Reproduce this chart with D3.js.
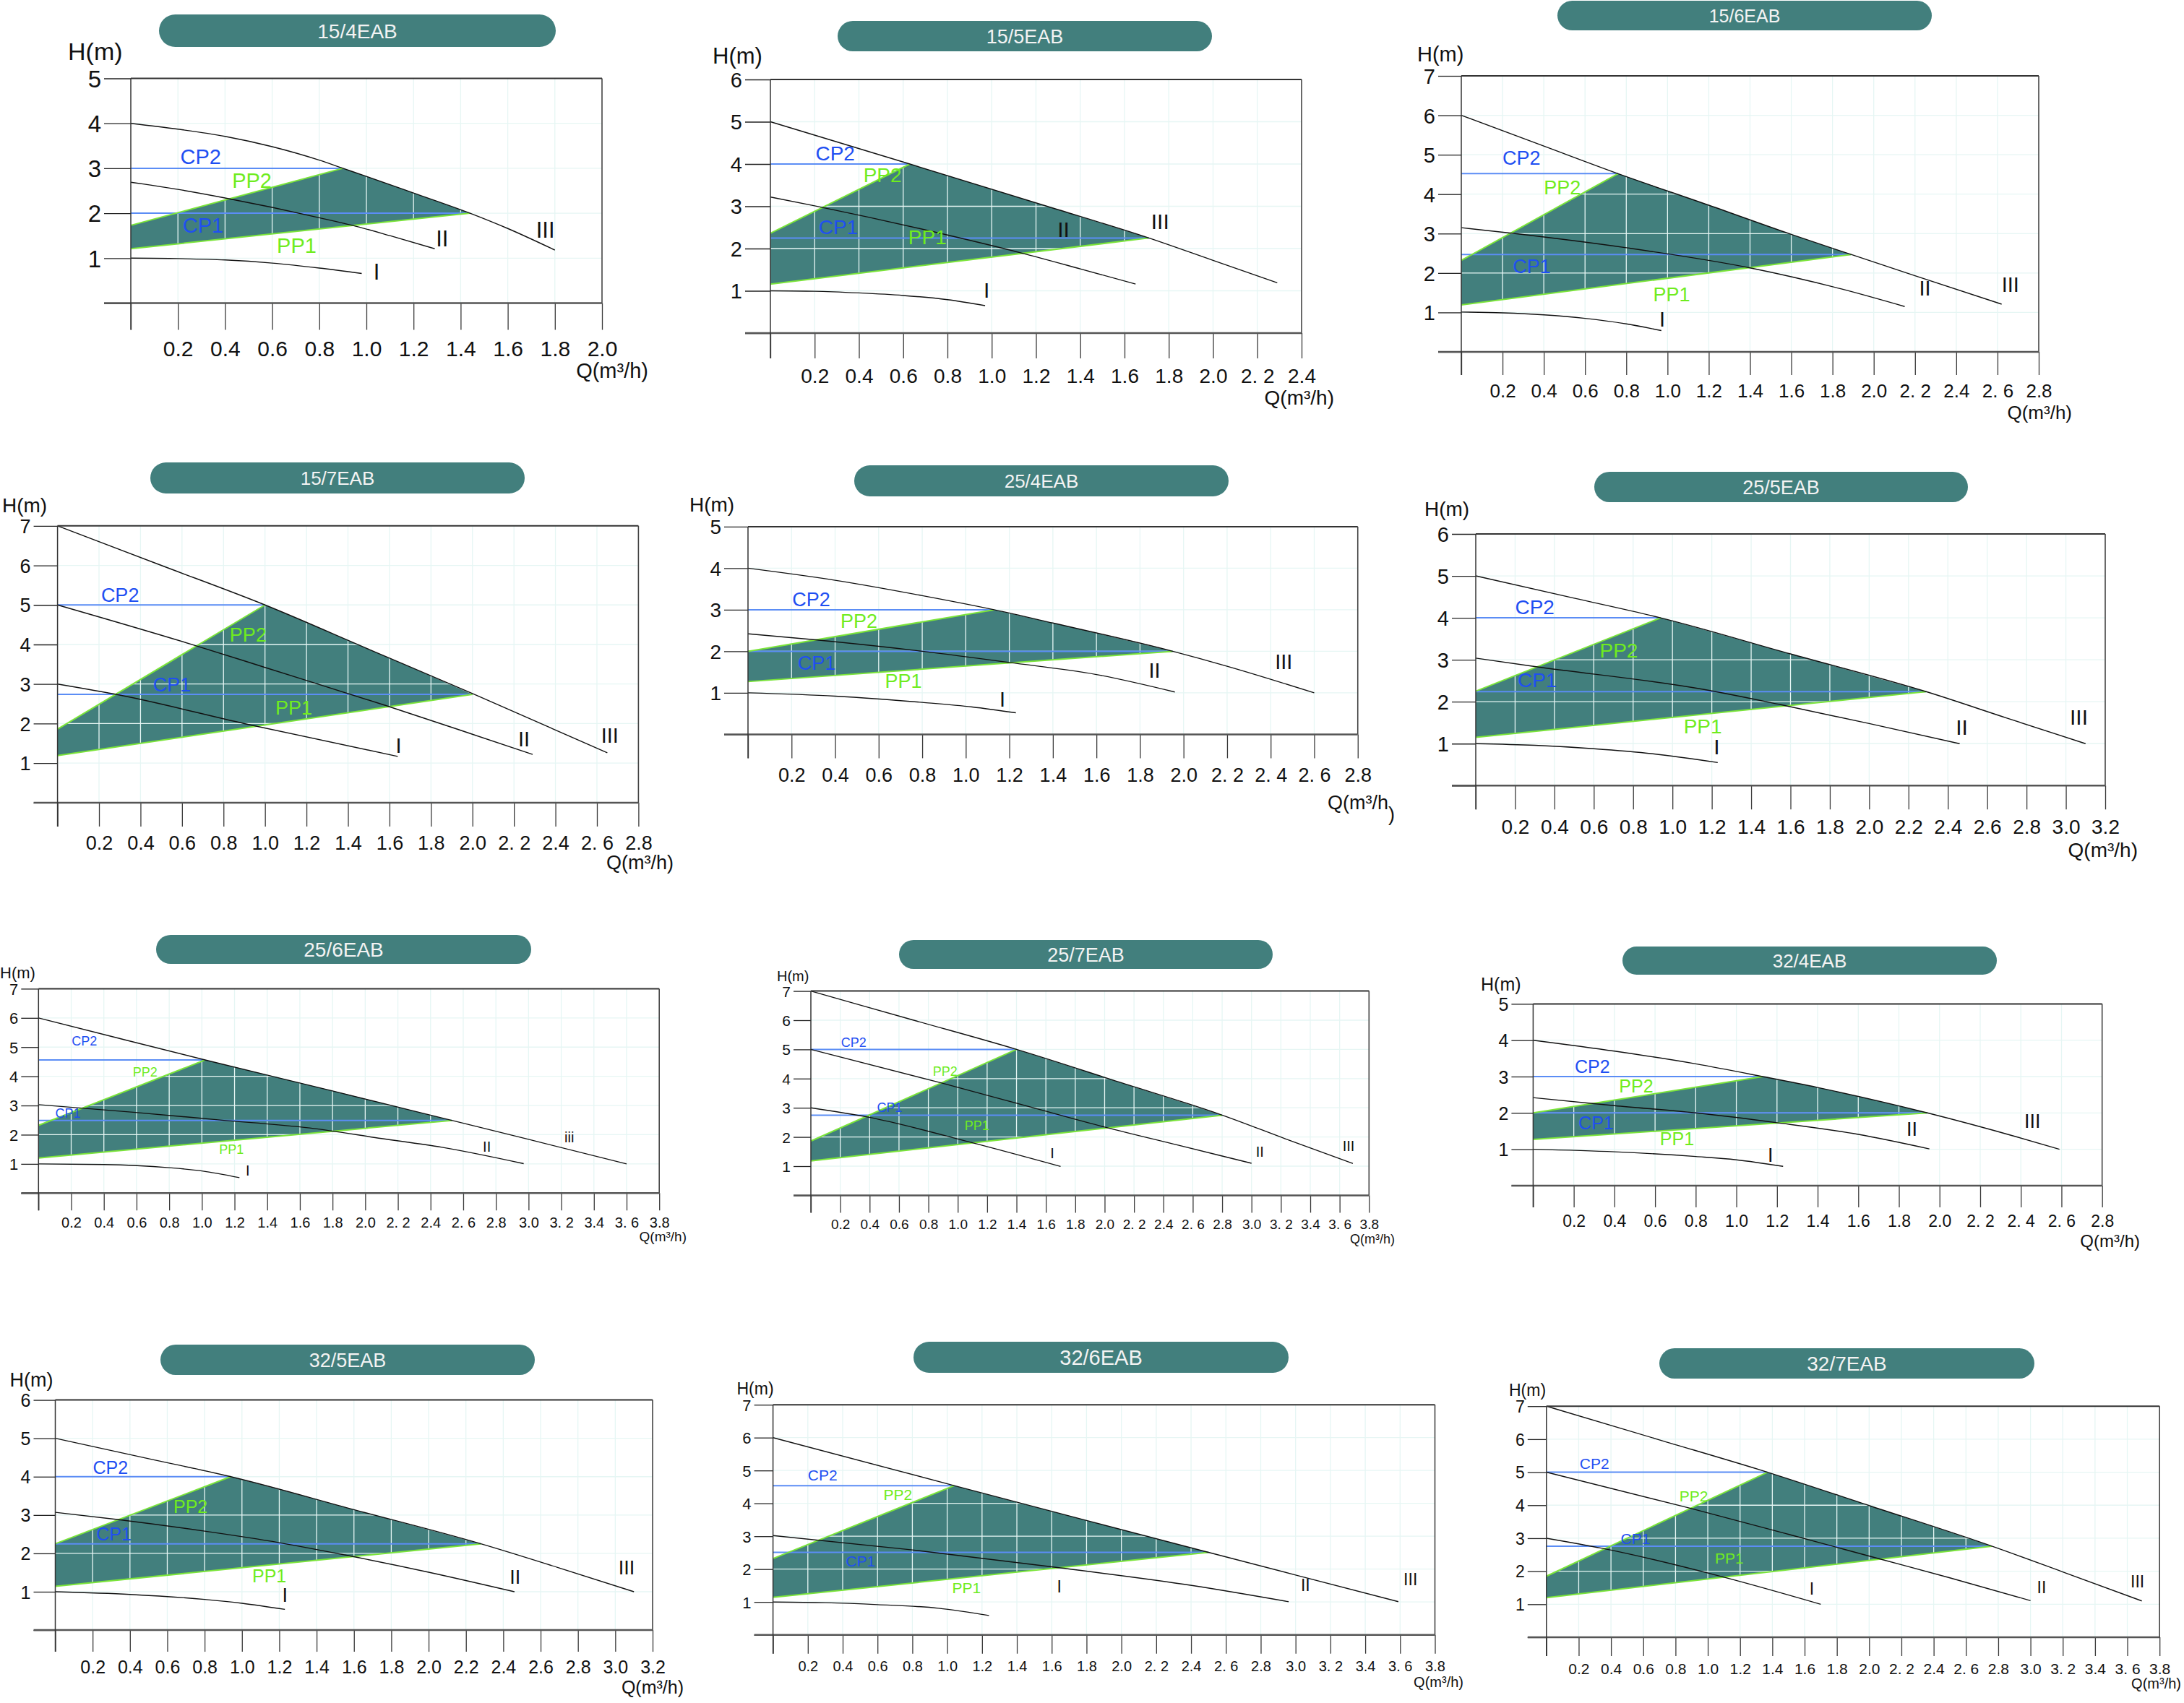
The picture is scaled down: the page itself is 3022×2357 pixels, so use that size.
<!DOCTYPE html>
<html><head><meta charset="utf-8">
<script src="https://cdn.jsdelivr.net/npm/d3@7"></script>
<style>
body{margin:0;background:#fff}
svg text{font-family:"Liberation Sans",Arial,sans-serif}
</style>
</head><body>
<svg id="c" width="3022" height="2357"></svg>
<script>
// ---------------- DATA ----------------
const titles = ["15/4EAB","15/5EAB","15/6EAB","15/7EAB","25/4EAB","25/5EAB","25/6EAB","25/7EAB","32/4EAB","32/5EAB","32/6EAB","32/7EAB"];
const xMaxes = [2.0, 2.4, 2.8, 2.8, 2.8, 3.2, 3.8, 3.8, 2.8, 3.2, 3.8, 3.8];
const yMaxes = [5, 6, 7, 7, 5, 6, 7, 7, 5, 6, 7, 7];

const base = ["0.2","0.4","0.6","0.8","1.0","1.2","1.4","1.6","1.8","2.0"];
const xTickLabels = [
  base,
  base.concat(["2. 2","2.4"]),
  base.concat(["2. 2","2.4","2. 6","2.8"]),
  base.concat(["2. 2","2.4","2. 6","2.8"]),
  base.concat(["2. 2","2. 4","2. 6","2.8"]),
  base.concat(["2.2","2.4","2.6","2.8","3.0","3.2"]),
  base.concat(["2. 2","2.4","2. 6","2.8","3.0","3. 2","3.4","3. 6","3.8"]),
  base.concat(["2. 2","2.4","2. 6","2.8","3.0","3. 2","3.4","3. 6","3.8"]),
  base.concat(["2. 2","2. 4","2. 6","2.8"]),
  base.concat(["2.2","2.4","2.6","2.8","3.0","3.2"]),
  base.concat(["2. 2","2.4","2. 6","2.8","3.0","3. 2","3.4","3. 6","3.8"]),
  base.concat(["2. 2","2.4","2. 6","2.8","3.0","3. 2","3.4","3. 6","3.8"])
];

// speed curves [Q, H]
const curveI = [
  [[0,1.0],[0.2,0.99],[0.4,0.96],[0.6,0.89],[0.8,0.78],[0.98,0.66]],
  [[0,1.0],[0.2,0.99],[0.4,0.95],[0.6,0.89],[0.8,0.79],[0.97,0.65]],
  [[0,1.01],[0.2,0.99],[0.4,0.94],[0.6,0.85],[0.8,0.71],[0.97,0.54]],
  [[0,3.0],[0.3,2.72],[0.9,2.0],[1.64,1.17]],
  [[0,1.0],[0.4,0.92],[0.8,0.77],[1.03,0.66],[1.23,0.52]],
  [[0,1.0],[0.3,0.96],[0.6,0.88],[0.9,0.76],[1.23,0.55]],
  [[0,1.0],[0.4,0.98],[0.8,0.87],[1.0,0.76],[1.23,0.53]],
  [[0,3.0],[0.39,2.68],[1.1,1.8],[1.7,0.99]],
  [[0,1.0],[0.4,0.93],[0.8,0.8],[1.0,0.71],[1.23,0.53]],
  [[0,1.0],[0.4,0.93],[0.8,0.8],[1.0,0.7],[1.23,0.54]],
  [[0,1.0],[0.3,0.98],[0.6,0.92],[0.95,0.81],[1.24,0.59]],
  [[0,3.0],[0.34,2.7],[1.1,1.82],[1.7,1.0]]
];
const curveII = [
  [[0,2.69],[0.2,2.53],[0.4,2.34],[0.6,2.13],[0.8,1.9],[0.94,1.73],[1.1,1.5],[1.29,1.21]],
  [[0,3.22],[0.2,3.01],[0.8,2.32],[1.13,1.9],[1.4,1.52],[1.65,1.16]],
  [[0,3.15],[0.26,3.0],[0.8,2.64],[1.4,2.13],[1.84,1.6],[2.15,1.15]],
  [[0,5.0],[0.66,3.98],[1.0,3.42],[1.58,2.46],[2.0,1.73],[2.29,1.22]],
  [[0,2.42],[0.3,2.28],[0.8,2.0],[1.2,1.73],[1.6,1.44],[1.96,1.02]],
  [[0,3.04],[0.3,2.84],[1.15,2.3],[1.55,1.93],[2.0,1.48],[2.46,1.0]],
  [[0,3.03],[0.58,2.77],[1.1,2.51],[1.66,2.23],[2.1,1.87],[2.47,1.57],[2.97,1.01]],
  [[0,5.0],[0.89,3.85],[1.5,3.02],[2.0,2.34],[2.5,1.72],[3.0,1.1]],
  [[0,2.42],[0.4,2.2],[0.8,2.0],[1.2,1.73],[1.6,1.41],[1.95,1.01]],
  [[0,3.07],[0.34,2.88],[0.8,2.58],[1.2,2.28],[1.55,1.96],[2.0,1.51],[2.46,1.0]],
  [[0,3.02],[0.79,2.59],[1.6,2.07],[2.41,1.5],[2.96,1.01]],
  [[0,5.0],[0.89,3.91],[1.5,3.12],[2.06,2.38],[2.5,1.8],[3.0,1.11]]
];
const curveIII = [
  [[0,4.0],[0.2,3.87],[0.4,3.71],[0.6,3.48],[0.8,3.18],[0.9,3.0],[1.0,2.82],[1.2,2.45],[1.44,2.0],[1.6,1.66],[1.8,1.18]],
  [[0,5.0],[0.63,4.0],[1.25,3.0],[1.71,2.25],[2.0,1.72],[2.29,1.19]],
  [[0,6.0],[0.4,5.22],[0.76,4.52],[1.2,3.72],[1.6,2.98],[1.89,2.47],[2.2,1.93],[2.62,1.21]],
  [[0,7.0],[0.5,6.0],[1.0,5.0],[1.5,3.88],[2.0,2.76],[2.65,1.26]],
  [[0,4.0],[0.4,3.71],[0.8,3.34],[1.13,3.0],[1.4,2.68],[1.95,2.0],[2.2,1.64],[2.6,1.0]],
  [[0,5.0],[0.5,4.47],[0.94,4.0],[1.6,3.14],[2.29,2.24],[2.7,1.61],[3.1,1.0]],
  [[0,6.0],[0.5,5.29],[1.02,4.56],[1.8,3.5],[2.53,2.49],[3.0,1.84],[3.6,1.0]],
  [[0,7.0],[0.7,6.0],[1.4,5.0],[2.1,3.88],[2.8,2.75],[3.25,1.9],[3.69,1.09]],
  [[0,4.0],[0.4,3.7],[0.8,3.35],[1.13,3.0],[1.4,2.7],[1.94,2.0],[2.38,1.34],[2.59,1.0]],
  [[0,5.0],[0.5,4.47],[0.94,4.0],[1.6,3.14],[2.28,2.25],[2.7,1.62],[3.1,1.0]],
  [[0,6.0],[1.04,4.54],[1.8,3.48],[2.5,2.51],[3.0,1.82],[3.59,1.01]],
  [[0,7.0],[0.7,5.98],[1.37,5.0],[2.0,3.99],[2.76,2.76],[3.2,1.98],[3.69,1.1]]
];
// control-mode end points [Q, H]
const cp2Points = [[0.9,3.0],[0.63,4.0],[0.76,4.52],[1.0,5.0],[1.13,3.0],[0.94,4.0],[1.02,4.56],[1.4,5.0],[1.13,3.0],[0.94,4.0],[1.04,4.54],[1.37,5.0]];
const cp1Points = [[1.44,2.0],[1.71,2.25],[1.89,2.47],[2.0,2.74],[1.95,2.0],[2.29,2.24],[2.53,2.49],[2.8,2.745],[1.94,2.0],[2.28,2.25],[2.5,2.51],[2.76,2.76]];
const pp2Starts = [1.73, 2.36, 2.32, 1.86, 2.0, 2.25, 2.32, 1.86, 2.0, 2.25, 2.32, 1.85];
const pp1Starts = [1.21, 1.16, 1.19, 1.19, 1.27, 1.15, 1.2, 1.18, 1.27, 1.14, 1.14, 1.2];

const modeNames = ["CP2","PP2","CP1","PP1"];
const speedNames = [
  ["I","II","III"],["I","II","III"],["I","II","III"],["I","II","III"],
  ["I","II","III"],["I","II","III"],["I","II","iii"],["I","II","III"],
  ["I","II","III"],["I","II","III"],["I","II","III"],["I","II","III"]
];
const yAxisTitle = "H(m)";
const xAxisTitle = "Q(m³/h)";

// ---------------- LAYOUT ----------------
const layout = [
  {L:181,R:833,T:108.5,B:419.5,tick:37,tx0:220,tx1:769,ty0:20,ty1:65,tfs:28,yfs:33,xfs:30,hfs:34,hx:94,hy:83,lfs:29,qr:897,qb:523,qfs:29,
   lab:[[0.21,3.09],[0.43,2.56],[0.22,1.57],[0.62,1.11],[1.03,0.53],[1.295,1.26],[1.72,1.46]]},
  {L:1066,R:1801,T:110,B:461,tick:35,tx0:1159,tx1:1677,ty0:29,ty1:71,tfs:27,yfs:29,xfs:28,hfs:31,hx:986,hy:88,lfs:28,qr:1846,qb:560,qfs:28,
   lab:[[0.204,4.09],[0.42,3.58],[0.218,2.35],[0.623,2.11],[0.963,0.83],[1.297,2.27],[1.72,2.46]]},
  {L:2022,R:2821,T:105,B:487,tick:32,tx0:2155,tx1:2673,ty0:1,ty1:42,tfs:25,yfs:29,xfs:26,hfs:29,hx:1961,hy:85,lfs:27,qr:2867,qb:580,qfs:26,
   lab:[[0.2,4.75],[0.4,4.0],[0.25,2.0],[0.93,1.29],[0.96,0.65],[2.22,1.43],[2.62,1.52]]},
  {L:79.6,R:883.4,T:727.8,B:1110.9,tick:33,tx0:208,tx1:726,ty0:640,ty1:683,tfs:26,yfs:27,xfs:27,hfs:28,hx:3,hy:709,lfs:27,qr:932,qb:1203,qfs:27,
   lab:[[0.21,5.07],[0.83,4.08],[0.46,2.82],[1.05,2.22],[1.63,1.26],[2.22,1.42],[2.62,1.51]]},
  {L:1035,R:1878.75,T:728.9,B:1016.4,tick:33,tx0:1182,tx1:1700,ty0:644,ty1:687,tfs:26,yfs:28,xfs:27,hfs:28,hx:954,hy:708,lfs:27,qr:1921,qb:1120,qfs:27,qSplit:true,
   lab:[[0.203,3.09],[0.425,2.57],[0.228,1.55],[0.629,1.12],[1.155,0.66],[1.84,1.37],[2.42,1.58]]},
  {L:2042,R:2913,T:739,B:1087.3,tick:33,tx0:2206,tx1:2723,ty0:653,ty1:695,tfs:27,yfs:29,xfs:28,hfs:28,hx:1971,hy:714,lfs:28,qr:2958,qb:1186,qfs:28,
   lab:[[0.2,4.09],[0.63,3.06],[0.213,2.34],[1.057,1.24],[1.21,0.74],[2.44,1.21],[3.02,1.46]]},
  {L:53.3,R:912.2,T:1368.4,B:1651.3,tick:24,tx0:216,tx1:735,ty0:1294,ty1:1334,tfs:28,yfs:22,xfs:20,hfs:22,hx:0,hy:1354,lfs:18,qr:950,qb:1718,qfs:19,
   lab:[[0.203,5.05],[0.577,3.99],[0.103,2.57],[1.106,1.34],[1.268,0.6],[2.72,1.43],[3.22,1.75]]},
  {L:1122,R:1894.3,T:1371.6,B:1654.4,tick:24,tx0:1244,tx1:1761,ty0:1301,ty1:1341,tfs:27,yfs:21,xfs:19,hfs:20,hx:1075,hy:1358,lfs:18,qr:1930,qb:1721,qfs:18,
   lab:[[0.206,5.09],[0.83,4.1],[0.45,2.85],[1.047,2.23],[1.63,1.28],[3.03,1.31],[3.62,1.51]]},
  {L:2121.4,R:2908.7,T:1389.4,B:1640.9,tick:30,tx0:2245,tx1:2763,ty0:1310,ty1:1349,tfs:26,yfs:25,xfs:23,hfs:25,hx:2049,hy:1371,lfs:25,qr:2961,qb:1726,qfs:24,
   lab:[[0.205,3.09],[0.423,2.57],[0.223,1.55],[0.624,1.12],[1.154,0.66],[1.837,1.37],[2.417,1.58]]},
  {L:76.5,R:903,T:1937.6,B:2256.1,tick:30,tx0:222,tx1:740,ty0:1861,ty1:1903,tfs:27,yfs:25,xfs:25,hfs:27,hx:13.5,hy:1919,lfs:25,qr:946,qb:2344,qfs:25,
   lab:[[0.201,4.08],[0.633,3.06],[0.22,2.34],[1.055,1.25],[1.216,0.73],[2.434,1.2],[3.017,1.45]]},
  {L:1069.6,R:1985.5,T:1944.2,B:2262.7,tick:26,tx0:1264,tx1:1783,ty0:1857,ty1:1900,tfs:29,yfs:22,xfs:20,hfs:23,hx:1019.5,hy:1930,lfs:21,qr:2025,qb:2335,qfs:20,
   lab:[[0.2,4.7],[0.634,4.11],[0.418,2.08],[1.028,1.26],[1.63,1.28],[3.03,1.34],[3.62,1.51]]},
  {L:2139.8,R:2988.2,T:1946.2,B:2266,tick:26,tx0:2296,tx1:2815,ty0:1866,ty1:1908,tfs:28,yfs:23,xfs:21,hfs:23,hx:2088,hy:1932,lfs:21,qr:3018,qb:2337,qfs:20,
   lab:[[0.206,5.1],[0.824,4.11],[0.46,2.83],[1.044,2.24],[1.63,1.29],[3.04,1.33],[3.62,1.51]]}
];

const TEAL = "#427f7d";
const GRID = "#e6f6f4";
const CP_LINE = "#5b8df5";
const PP_LINE = "#7be43a";
const CP_TEXT = "#1f4ff2";
const PP_TEXT = "#6fec1e";

const svg = d3.select("#c");

titles.forEach((title, i) => {
  const lo = layout[i];
  const xMax = xMaxes[i], yMax = yMaxes[i];
  const x = d3.scaleLinear().domain([0, xMax]).range([lo.L, lo.R]);
  const y = d3.scaleLinear().domain([0, yMax]).range([lo.B, lo.T]);
  const g = svg.append("g");
  const nX = Math.round(xMax / 0.2);
  const xVals = d3.range(0, nX + 1).map(k => +(k * 0.2).toFixed(1));
  const yVals = d3.range(0, yMax + 1);

  // title pill
  const th = lo.ty1 - lo.ty0;
  g.append("rect").attr("x", lo.tx0).attr("y", lo.ty0).attr("width", lo.tx1 - lo.tx0)
    .attr("height", th).attr("rx", th / 2).attr("ry", th / 2).attr("fill", TEAL);
  g.append("text").attr("x", (lo.tx0 + lo.tx1) / 2).attr("y", lo.ty0 + th / 2)
    .attr("dy", "0.36em").attr("text-anchor", "middle").attr("font-size", lo.tfs)
    .attr("fill", "#f3f3f3").text(title);

  // shaded operating region
  const top = cp2Points[i], right = cp1Points[i];
  const upper = [top].concat(curveIII[i].filter(p => p[0] > top[0] + 0.02 && p[0] < right[0] - 0.02), [right]);
  const lineM = d3.line().x(d => x(d[0])).y(d => y(d[1])).curve(d3.curveMonotoneX);
  const up = lineM(upper);
  const d = "M" + x(0) + "," + y(pp1Starts[i]) + "L" + x(0) + "," + y(pp2Starts[i]) + "L" + up.slice(1) +
            "L" + x(0) + "," + y(pp1Starts[i]) + "Z";
  g.append("path").attr("d", d).attr("fill", TEAL);

  // grid
  g.append("g").selectAll("line").data(xVals.slice(1, -1)).join("line")
    .attr("x1", v => x(v)).attr("x2", v => x(v)).attr("y1", lo.T).attr("y2", lo.B)
    .attr("stroke", GRID).attr("stroke-width", 1.3);
  g.append("g").selectAll("line").data(yVals.slice(1, -1)).join("line")
    .attr("x1", lo.L).attr("x2", lo.R).attr("y1", v => y(v)).attr("y2", v => y(v))
    .attr("stroke", GRID).attr("stroke-width", 1.3);

  // CP lines
  const lineL = d3.line().x(p => x(p[0])).y(p => y(p[1]));
  g.append("path").attr("d", lineL([[0, top[1]], top])).attr("stroke", CP_LINE).attr("stroke-width", 2).attr("fill", "none");
  g.append("path").attr("d", lineL([[0, right[1]], right])).attr("stroke", CP_LINE).attr("stroke-width", 2).attr("fill", "none");
  // PP lines
  g.append("path").attr("d", lineL([[0, pp2Starts[i]], top])).attr("stroke", PP_LINE).attr("stroke-width", 2).attr("fill", "none");
  g.append("path").attr("d", lineL([[0, pp1Starts[i]], right])).attr("stroke", PP_LINE).attr("stroke-width", 2).attr("fill", "none");

  // speed curves
  [curveI[i], curveII[i], curveIII[i]].forEach(c => {
    g.append("path").attr("d", lineM(c)).attr("stroke", "#111").attr("stroke-width", 1.4).attr("fill", "none");
  });

  // axes
  const xAxis = d3.axisBottom(x).tickValues(xVals).tickSize(lo.tick)
    .tickFormat((v, k) => k === 0 ? "" : xTickLabels[i][k - 1]);
  const gx = g.append("g").attr("transform", `translate(0,${lo.B})`).call(xAxis);
  gx.select(".domain").remove();
  gx.selectAll(".tick line").attr("stroke", "#3a3a3a").attr("stroke-width", 1.3);
  gx.selectAll(".tick text").attr("y", lo.tick + 1.2 * lo.xfs).attr("dy", null)
    .attr("font-size", lo.xfs).attr("fill", "#111").attr("font-family", null);

  const yAxis = d3.axisLeft(y).tickValues(yVals).tickSize(lo.tick)
    .tickFormat(v => v === 0 ? "" : String(v));
  const gy = g.append("g").attr("transform", `translate(${lo.L},0)`).call(yAxis);
  gy.select(".domain").remove();
  gy.selectAll(".tick line").attr("stroke", "#222").attr("stroke-width", 1.3);
  gy.selectAll(".tick text").attr("x", -(lo.tick + 4)).attr("dy", "0.36em")
    .attr("font-size", lo.yfs).attr("fill", "#111").attr("font-family", null);

  // frame
  g.append("line").attr("x1", lo.L).attr("x2", lo.R).attr("y1", lo.T).attr("y2", lo.T).attr("stroke", "#333").attr("stroke-width", 2);
  g.append("line").attr("x1", lo.R).attr("x2", lo.R).attr("y1", lo.T).attr("y2", lo.B).attr("stroke", "#444").attr("stroke-width", 1.6);
  g.append("line").attr("x1", lo.L - lo.tick).attr("x2", lo.R).attr("y1", lo.B).attr("y2", lo.B).attr("stroke", "#555").attr("stroke-width", 2.5);
  g.append("line").attr("x1", lo.L).attr("x2", lo.L).attr("y1", lo.T).attr("y2", lo.B + lo.tick).attr("stroke", "#333").attr("stroke-width", 1.5);

  // axis titles
  g.append("text").attr("x", lo.hx).attr("y", lo.hy).attr("font-size", lo.hfs).attr("fill", "#111").text(yAxisTitle);
  if (lo.qSplit) {
    g.append("text").attr("x", lo.qr).attr("y", lo.qb).attr("text-anchor", "end").attr("font-size", lo.qfs).attr("fill", "#111").text(xAxisTitle.slice(0, -1));
    g.append("text").attr("x", lo.qr).attr("y", lo.qb + 16).attr("font-size", lo.qfs).attr("fill", "#111").text(")");
  } else {
    g.append("text").attr("x", lo.qr).attr("y", lo.qb).attr("text-anchor", "end").attr("font-size", lo.qfs).attr("fill", "#111").text(xAxisTitle);
  }

  // annotations
  const labColors = [CP_TEXT, PP_TEXT, CP_TEXT, PP_TEXT];
  modeNames.forEach((nm, k) => {
    g.append("text").attr("x", x(lo.lab[k][0])).attr("y", y(lo.lab[k][1]))
      .attr("font-size", lo.lfs).attr("fill", labColors[k]).text(nm);
  });
  speedNames[i].forEach((nm, k) => {
    g.append("text").attr("x", x(lo.lab[4 + k][0])).attr("y", y(lo.lab[4 + k][1]))
      .attr("font-size", lo.lfs + 2).attr("fill", "#111").text(nm);
  });
});
</script>
</body></html>
